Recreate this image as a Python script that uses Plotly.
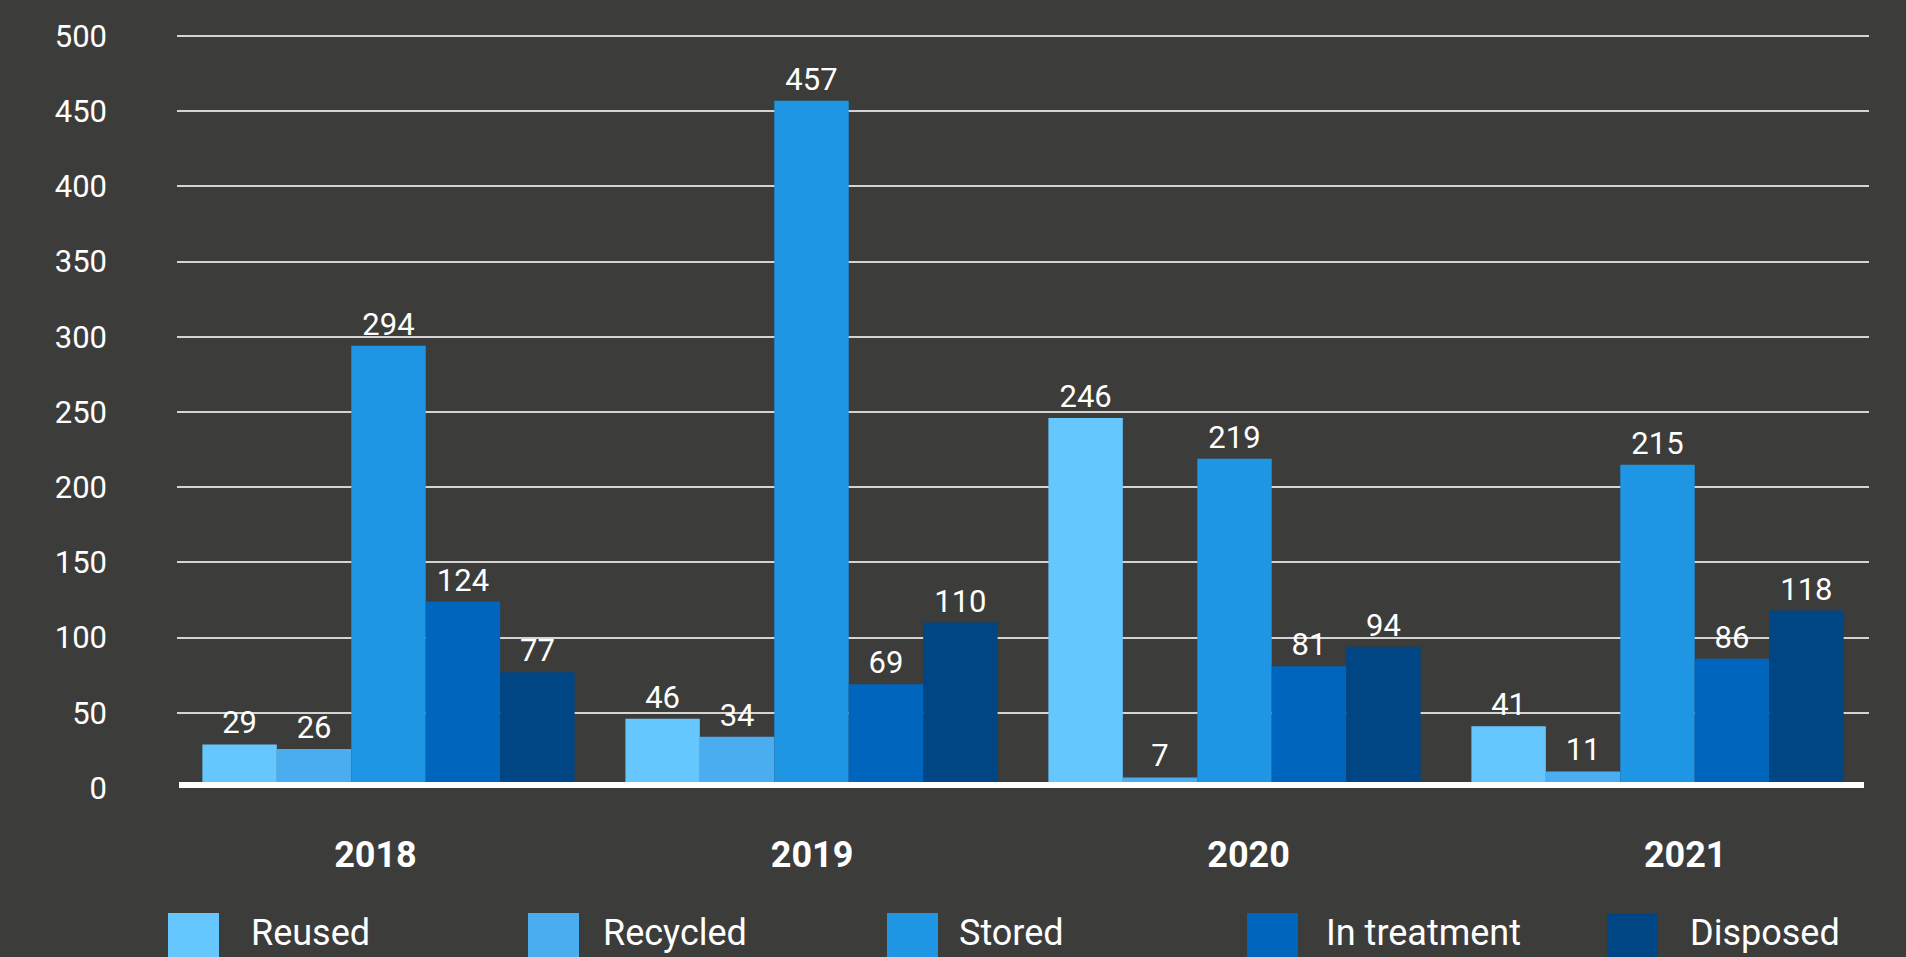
import plotly.graph_objects as go

# Waste volumes per year, by destination
years = ["2018", "2019", "2020", "2021"]
series_names = ["Reused", "Recycled", "Stored", "In treatment", "Disposed"]
reused = [29, 46, 246, 41]
recycled = [26, 34, 7, 11]
stored = [294, 457, 219, 215]
in_treatment = [124, 69, 81, 86]
disposed = [77, 110, 94, 118]
y_ticks = [0, 50, 100, 150, 200, 250, 300, 350, 400, 450, 500]

series_values = [reused, recycled, stored, in_treatment, disposed]
colors = ["#66c7ff", "#4aadf0", "#1e96e3", "#0065bd", "#004684"]

BG = "#3c3c3b"
W, H = 1906, 957
M_L, M_R, M_T, M_B = 177, 37, 33, 169
PLOT_W = W - M_L - M_R
PLOT_H = H - M_T - M_B
FONT = "Roboto"


def px_x(px):
    """Horizontal pixel position -> paper coordinate."""
    return (px - M_L) / PLOT_W


def px_y(px):
    """Vertical pixel position -> paper coordinate."""
    return (H - M_B - px) / PLOT_H


fig = go.Figure()

for name, vals, col in zip(series_names, series_values, colors):
    fig.add_trace(go.Bar(
        name=name,
        x=years,
        y=vals,
        marker=dict(color=col, line=dict(width=0)),
        text=[str(v) for v in vals],
        textposition="outside",
        textfont=dict(family=FONT, size=31, color="#ffffff"),
        constraintext="none",
        cliponaxis=False,
        showlegend=False,
        hoverinfo="skip",
    ))

# carrier trace for the year label axis
fig.add_trace(go.Scatter(
    x=[0, 1, 2, 3], y=[None] * 4, xaxis="x2", mode="markers",
    showlegend=False, hoverinfo="skip",
))

shapes = [
    # white baseline along zero
    dict(type="line", xref="paper", x0=px_x(179), x1=px_x(1864),
         yref="y", ysizemode="pixel", yanchor=0, y0=3, y1=3,
         line=dict(color="#ffffff", width=6), layer="above"),
]
annotations = []

# legend: large colour squares with labels along the bottom edge
legend_sq_left = [168, 528, 887, 1247, 1607]
legend_txt_left = [249, 601, 957, 1324, 1688]
for name, col, sx, tx in zip(series_names, colors, legend_sq_left, legend_txt_left):
    shapes.append(dict(
        type="rect", xref="paper", yref="paper",
        x0=px_x(sx), x1=px_x(sx + 51), y0=px_y(913), y1=px_y(964),
        fillcolor=col, line=dict(width=0), layer="above",
    ))
    annotations.append(dict(
        xref="paper", yref="paper", x=px_x(tx), y=px_y(933),
        xanchor="left", yanchor="middle", showarrow=False,
        text=name, font=dict(family=FONT, size=36, color="#ffffff"),
    ))

fig.update_layout(
    width=W, height=H,
    margin=dict(l=M_L, r=M_R, t=M_T, b=M_B, pad=0),
    paper_bgcolor=BG, plot_bgcolor=BG,
    barmode="group", bargap=0.12, bargroupgap=0,
    font=dict(family=FONT, color="#ffffff"),
    xaxis=dict(
        type="category", showticklabels=False, showgrid=False,
        zeroline=False, showline=False, ticks="", fixedrange=True,
    ),
    xaxis2=dict(
        overlaying="x", anchor="y", side="bottom", type="linear",
        range=[-0.4546, 3.421], tickvals=[0, 1, 2, 3], ticktext=years,
        showgrid=False, zeroline=False, showline=False, ticks="",
        ticklabelstandoff=42,
        tickfont=dict(family=FONT, size=36, color="#ffffff", weight="bold"),
    ),
    yaxis=dict(
        range=[0, 502], tickvals=y_ticks, ticks="",
        showgrid=True, gridcolor="#d4d4d4", gridwidth=2,
        zeroline=False, showline=False,
        ticklabelstandoff=69,
        tickfont=dict(family=FONT, size=31, color="#ffffff"),
    ),
    shapes=shapes,
    annotations=annotations,
)

fig.write_html("out.html", config={"displayModeBar": False})
